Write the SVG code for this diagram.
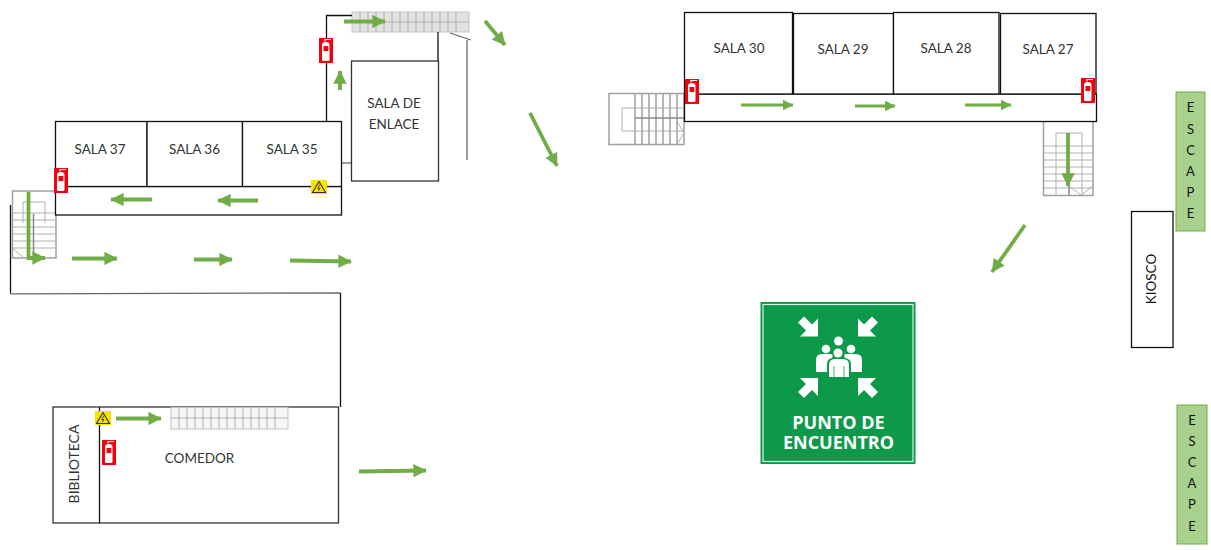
<svg xmlns="http://www.w3.org/2000/svg" xmlns:xlink="http://www.w3.org/1999/xlink" width="1211" height="550" viewBox="0 0 1211 550">
<style>
.wall{fill:none;stroke:#111;stroke-width:1.3}
.wall2{fill:none;stroke:#666;stroke-width:1.3}
.room{fill:#fff;stroke:#111;stroke-width:1.3}
.t{font-family:"Lato","Open Sans","Liberation Sans",sans-serif;font-size:13.5px;fill:#333;text-anchor:middle}
.k{fill:#111}
.arrow{fill:none;stroke:#70ad47;stroke-width:3.8;marker-end:url(#ah)}
.s{fill:none;stroke:#b0b0b0;stroke-width:1}
.s2{fill:none;stroke:#a0a0a0;stroke-width:1.5}
.esc{fill:#a9d18e;stroke:#70ad47;stroke-width:1}
.sg{font-family:"Open Sans","Liberation Sans",sans-serif;font-weight:700;font-size:18px;fill:#fff;text-anchor:middle}
</style>
<defs>
<marker id="ah" viewBox="0 0 10 10" refX="9.5" refY="5" markerWidth="3.5" markerHeight="3.5" orient="auto"><path d="M0 0L10 5L0 10Z" fill="#70ad47"/></marker>
<g id="ext">
<rect width="14" height="25" fill="#f5000f"/>
<path d="M3 7Q3 4 7 4Q10.500 4 10.500 7V21.500Q10.500 23 9 23H4.500Q3 23 3 21.500Z" fill="#fff"/>
<path d="M6 3.500V1.500H12" fill="none" stroke="#fff" stroke-width="1.200"/>
<rect x="4.500" y="8" width="4.800" height="5" fill="#f5000f"/>
</g>
<g id="warn">
<rect width="16" height="14" fill="#f7e300"/>
<path d="M8 1.500L14.500 12.500H1.500Z" fill="none" stroke="#333" stroke-width="1.100"/>
<path d="M8.800 4.500L6.800 8.500H9L7.300 11" fill="none" stroke="#333" stroke-width=".9"/>
</g>
<polygon id="sa" points="10,10 -8,10 -2,4 -10,-4 -4,-10 4,-2 10,-8" fill="#fff"/>
</defs>
<rect width="1211" height="550" fill="#fff"/>

<g id="stairs-top">
<rect x="352" y="12" width="117" height="20" fill="#e2e2e2" stroke="#c4c4c4"/>
<path class="s" d="M352 22H469M360 12V32M368 12V32M376 12V32M384 12V32M392 12V32M400 12V32M408 12V32M416 12V32M424 12V32M432 12V32M440 12V32M448 12V32M456 12V32"/>
</g>
<g id="stairs-left">
<rect class="s2" x="12.500" y="191" width="43.500" height="67"/>
<path class="s" d="M23 223V202H45V223"/>
<path class="s" d="M13 213H55M13 220H55M13 227H55M13 234H55M13 241H55M13 248H55"/>
<path d="M33.500 214V256" stroke="#888" stroke-width="1.500" fill="none"/>
<path class="s" d="M13 249L23 257"/>
</g>
<g id="stairs-mid">
<rect class="s2" x="609" y="93.500" width="75" height="51"/>
<path class="s" d="M622 131V108H684"/><path class="s" d="M622 131H684"/>
<path class="s2" d="M635 94V144M642 94V144M649 94V144M656 94V144M663 94V144M670 94V144M677 94V144"/>
<path d="M635 118H684" stroke="#888" stroke-width="1.500" fill="none"/>
<path class="s" d="M677 121L684 133L677 144"/>
</g>
<g id="stairs-right">
<path class="s2" d="M1043.500 122V195.500H1093V122"/>
<path class="s" d="M1056 133H1082V195M1056 133V195"/>
<path class="s" d="M1044 146H1093M1044 153H1093M1044 160H1093M1044 167H1093M1044 174H1093M1044 181H1093M1044 188H1093"/>
<path d="M1069 180V195" stroke="#888" stroke-width="1.500" fill="none"/>
<path class="s" d="M1069 186L1081 195L1093 186"/>
</g>

<g id="walls">
<path class="wall" d="M326.500 121V15.500H352"/>
<path class="wall" d="M438 32V61"/>
<path class="wall2" d="M450 33L471 40M467 40V160"/>
<path class="wall2" d="M341.500 163H351"/>
<path class="wall" d="M10.500 205V293.500"/>
<path class="wall2" d="M10.500 293.800L340.500 293"/>
<path class="wall" d="M340.500 293V407"/>
</g>

<g id="corridor-left"><rect class="room" x="55.500" y="186.500" width="286" height="28.500"/></g>
<g id="sala-37"><rect class="room" x="55.500" y="121.500" width="91.500" height="65"/><text class="t" x="100" y="153.500">SALA 37</text></g>
<g id="sala-36"><rect class="room" x="147" y="121.500" width="95.500" height="65"/><text class="t" x="194.500" y="153.500">SALA 36</text></g>
<g id="sala-35"><rect class="room" x="242.500" y="121.500" width="99" height="65"/><text class="t" x="292" y="153.500">SALA 35</text></g>
<g id="sala-enlace"><rect class="room" x="351.500" y="61" width="87" height="120" style="stroke:#333"/><text class="t" x="394" y="108">SALA DE</text><text class="t" x="394" y="129">ENLACE</text></g>

<g id="corridor-right"><rect class="room" x="684.500" y="94" width="412" height="27.500"/></g>
<g id="sala-30"><rect class="room" x="684.500" y="12.500" width="108" height="81.500"/><text class="t" x="739" y="52.500">SALA 30</text></g>
<g id="sala-29"><rect class="room" x="793.500" y="13.500" width="100" height="80.500"/><text class="t" x="843" y="53.500">SALA 29</text></g>
<g id="sala-28"><rect class="room" x="893.500" y="12.500" width="105.500" height="81.500"/><text class="t" x="946" y="52.500">SALA 28</text></g>
<g id="sala-27"><rect class="room" x="1000.500" y="13.500" width="95.500" height="80.500"/><text class="t" x="1048" y="53.500">SALA 27</text></g>

<g id="comedor"><rect class="room" x="53" y="407" width="285.500" height="116" style="stroke:#333"/><text class="t" x="199.500" y="463">COMEDOR</text>
<rect x="171" y="407.500" width="117" height="21.500" fill="#f6f6f6" stroke="#c4c4c4"/>
<path class="s" d="M171 418H288M179 408V429M187 408V429M195 408V429M203 408V429M211 408V429M219 408V429M227 408V429M235 408V429M243 408V429M251 408V429M259 408V429M267 408V429M275 408V429"/></g>
<g id="biblioteca"><path class="wall" d="M99.500 407V523"/><text class="t" transform="translate(79,464) rotate(-90)" style="font-size:14px">BIBLIOTECA</text></g>

<g id="kiosco"><rect class="room" x="1131.500" y="211.500" width="41.500" height="136"/><text class="t k" transform="translate(1156,279) rotate(-90)">KIOSCO</text></g>
<g id="escape-1"><rect class="esc" x="1176" y="92" width="29" height="139"/>
<text class="t k" style="font-size:13px"><tspan x="1190.500" y="112">E</tspan><tspan x="1190.500" y="134">S</tspan><tspan x="1190.500" y="155">C</tspan><tspan x="1190.500" y="176">A</tspan><tspan x="1190.500" y="197">P</tspan><tspan x="1190.500" y="218">E</tspan></text></g>
<g id="escape-2"><rect class="esc" x="1177" y="405" width="30" height="139"/>
<text class="t k" style="font-size:13px"><tspan x="1192" y="425">E</tspan><tspan x="1192" y="446">S</tspan><tspan x="1192" y="467">C</tspan><tspan x="1192" y="488">A</tspan><tspan x="1192" y="509">P</tspan><tspan x="1192" y="531">E</tspan></text></g>

<g id="extinguishers">
<use xlink:href="#ext" href="#ext" x="319" y="38"/>
<use xlink:href="#ext" href="#ext" x="54" y="168"/>
<use xlink:href="#ext" href="#ext" x="685" y="79"/>
<use xlink:href="#ext" href="#ext" x="1081" y="78"/>
<use xlink:href="#ext" href="#ext" x="102" y="440"/>
</g>
<g id="warnings">
<use xlink:href="#warn" href="#warn" x="311" y="180"/>
<use xlink:href="#warn" href="#warn" x="95" y="411"/>
</g>

<g id="punto-de-encuentro">
<rect x="760.500" y="302" width="155" height="162" fill="#0c9a4a"/>
<rect x="763" y="304.500" width="150" height="157" fill="none" stroke="#d9f0e2" stroke-width="1.200"/>
<use xlink:href="#sa" href="#sa" transform="translate(808,326.500)"/>
<use xlink:href="#sa" href="#sa" transform="translate(868,326.500) rotate(90)"/>
<use xlink:href="#sa" href="#sa" transform="translate(808,388) rotate(-90)"/>
<use xlink:href="#sa" href="#sa" transform="translate(868,388) rotate(180)"/>
<g fill="#fff">
<circle cx="838.500" cy="341" r="4.500"/><circle cx="826" cy="349" r="4.300"/><circle cx="851" cy="349" r="4.300"/><circle cx="838" cy="353" r="4.500"/>
<path d="M816 372V360Q816 354 822 354H830Q834 354 832 358Q827 359 827 364V372Z"/>
<path d="M862 372V360Q862 354 856 354H846Q843 354 845 358Q851 359 851 364V372Z"/>
<path d="M829 377V365Q829 359 835 359H843Q849 359 849 365V377Z"/>
</g>
<path d="M834 366V377M844 366V377" stroke="#0c9a4a" stroke-width=".8"/>
<text class="sg"><tspan x="838.500" y="429">PUNTO DE</tspan><tspan x="838.500" y="448.500">ENCUENTRO</tspan></text>
</g>

<g id="connectors">
<path class="arrow" d="M344 21.500H385"/>
<path class="arrow" d="M485 21L505 45"/>
<path class="arrow" d="M340 90V71"/>
<path class="arrow" d="M152 199.500H111"/>
<path class="arrow" d="M258 200.500H218"/>
<path class="arrow" d="M28.500 192V258H45"/>
<path class="arrow" d="M72 258.500H117"/>
<path class="arrow" d="M194 259.500H232"/>
<path class="arrow" d="M290 260.500L351 261.500"/>
<path class="arrow" d="M530 113L557 166"/>
<path class="arrow" d="M741 105H793" style="stroke-width:3"/>
<path class="arrow" d="M855 106H895" style="stroke-width:3"/>
<path class="arrow" d="M965 105H1011" style="stroke-width:3"/>
<path class="arrow" d="M1068 133V186"/>
<path class="arrow" d="M1025 225L992 272"/>
<path class="arrow" d="M359 471.500L426 470.500"/>
<path class="arrow" d="M116 418.500H161"/>
</g>
</svg>
